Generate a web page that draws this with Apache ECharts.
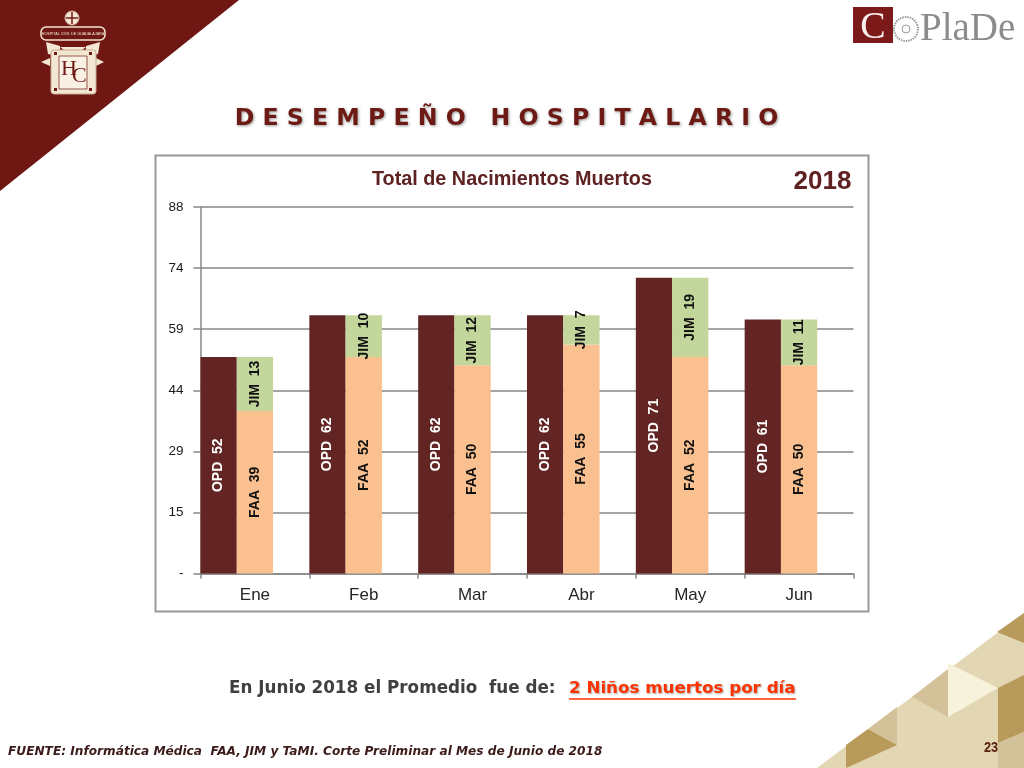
<!DOCTYPE html>
<html>
<head>
<meta charset="utf-8">
<title>Desempeño Hospitalario</title>
<script src="https://cdn.jsdelivr.net/npm/echarts@6/dist/echarts.min.js"></script>
<style>
  html, body { margin: 0; padding: 0; background: #fff; }
  #chart { width: 1024px; height: 768px; }
</style>
</head>
<body>
<div id="chart"></div>
<script>
const categories = ['Ene', 'Feb', 'Mar', 'Abr', 'May', 'Jun'];
const opdValues = [52, 62, 62, 62, 71, 61];
const faaValues = [39, 52, 50, 55, 52, 50];
const jimValues = [13, 10, 12, 7, 19, 11];
const yTickLabels = ['-', '15', '29', '44', '59', '74', '88'];

const yMax = 88;
const yStep = yMax / 6;
const arial = '"Liberation Sans", Arial, sans-serif';
const slideFont = '"DejaVu Sans", sans-serif';
const serif = '"Liberation Serif", serif';
const maroon = '#5f2222';

function poly(points, fill) {
  return { type: 'polygon', silent: true, shape: { points }, style: { fill } };
}

function label(x, y, text, font, fill, extra) {
  return {
    type: 'text', silent: true, x, y,
    style: Object.assign({ text, font, fill, textVerticalAlign: 'middle' }, extra || {}),
  };
}

// barra de la serie con su etiqueta girada
function barSeries(name, data, color, labelColor, stack) {
  return {
    name, type: 'bar', stack, data,
    itemStyle: { color },
    label: {
      show: true, position: 'inside', rotate: 90,
      color: labelColor, fontFamily: arial, fontSize: 14, fontWeight: 'bold',
      formatter: (p) => `${name}  ${p.value}`,
    },
  };
}

// fondo de la lamina
const cornerShapes = [
  poly([[817, 768], [1024, 613], [1024, 768]], '#e2d6b3'),
  poly([[997, 632], [1024, 613], [1024, 643]], '#b89a5a'),
  poly([[912, 697], [948, 669], [948, 717]], '#d3c299'),
  poly([[948, 663], [998, 688], [948, 717]], '#f7f2dc'),
  poly([[998, 688], [1024, 675], [1024, 732], [998, 743]], '#b89a5a'),
  poly([[998, 743], [1024, 732], [1024, 768], [998, 768]], '#d3c299'),
  poly([[846, 745], [868, 729], [897, 745], [846, 768]], '#b89a5a'),
  poly([[868, 729], [897, 707], [897, 745]], '#d3c299'),
];

const cream = '#f3e7d3';
const wine = '#6f1712';
const crest = [
  poly([[0, 0], [239, 0], [0, 191]], wine),
  { type: 'circle', silent: true, shape: { cx: 72, cy: 18, r: 7 }, style: { fill: cream, stroke: '#caa98f', lineWidth: 1 } },
  { type: 'line', silent: true, shape: { x1: 72, y1: 12, x2: 72, y2: 24 }, style: { stroke: wine, lineWidth: 1.5 } },
  { type: 'line', silent: true, shape: { x1: 66, y1: 18, x2: 78, y2: 18 }, style: { stroke: wine, lineWidth: 1.5 } },
  { type: 'rect', silent: true, shape: { x: 41, y: 27, width: 64, height: 13, r: 5 }, style: { fill: wine, stroke: cream, lineWidth: 1.5 } },
  label(73, 33.5, 'HOSPITAL CIVIL DE GUADALAJARA', `3.7px ${arial}`, cream, { textAlign: 'center' }),
  poly([[46, 42], [60, 46], [60, 56], [48, 54]], cream),
  poly([[100, 42], [86, 46], [86, 56], [98, 54]], cream),
  poly([[60, 47], [86, 47], [73, 57]], cream),
  poly([[41, 62], [50, 58], [50, 66]], cream),
  poly([[104, 62], [96, 58], [96, 66]], cream),
  { type: 'rect', silent: true, shape: { x: 51, y: 50, width: 45, height: 44, r: 3 }, style: { fill: cream, stroke: '#caa98f', lineWidth: 1 } },
  { type: 'rect', silent: true, shape: { x: 59, y: 56, width: 28, height: 33 }, style: { fill: '#f8f0e2', stroke: wine, lineWidth: 0.7 } },
  { type: 'rect', silent: true, shape: { x: 54, y: 52, width: 3, height: 3 }, style: { fill: wine } },
  { type: 'rect', silent: true, shape: { x: 89, y: 52, width: 3, height: 3 }, style: { fill: wine } },
  { type: 'rect', silent: true, shape: { x: 54, y: 88, width: 3, height: 3 }, style: { fill: wine } },
  { type: 'rect', silent: true, shape: { x: 89, y: 88, width: 3, height: 3 }, style: { fill: wine } },
  label(61, 69, 'H', `22px ${serif}`, wine),
  label(72, 76, 'C', `22px ${serif}`, wine),
];

const logo = [
  { type: 'rect', silent: true, shape: { x: 853, y: 7, width: 40, height: 36 }, style: { fill: '#7b1a18' } },
  label(873, 28, 'C', `38px ${serif}`, '#fbeeee', { textAlign: 'center' }),
  { type: 'circle', silent: true, shape: { cx: 906, cy: 29, r: 12 }, style: { fill: '#fff', stroke: '#9a9a9a', lineWidth: 2, lineDash: [1.5, 1] } },
  { type: 'circle', silent: true, shape: { cx: 906, cy: 29, r: 4 }, style: { fill: '#fff', stroke: '#9a9a9a', lineWidth: 1 } },
  label(920, 30, 'PlaDe', `39px ${serif}`, '#8c8c8c'),
];

const slideText = [
  // recuadro de la grafica
  { type: 'rect', silent: true, shape: { x: 155.5, y: 155.5, width: 713, height: 456 }, style: { fill: 'none', stroke: '#999', lineWidth: 2 } },
  label(506.5, 119, 'D E S E M P E Ñ O   H O S P I T A L A R I O', `bold 23.6px ${slideFont}`, '#6d1a15', {
    textAlign: 'center', textShadowColor: 'rgba(0,0,0,0.4)', textShadowBlur: 3, textShadowOffsetX: 1, textShadowOffsetY: 1,
  }),
  label(822.5, 182, '2018', `bold 26px ${arial}`, maroon, { textAlign: 'center' }),
  label(229, 689, 'En Junio 2018 el Promedio  fue de:', `bold 16.8px ${slideFont}`, '#404040'),
  label(569, 689, '2 Niños muertos por día', `bold 16.7px ${slideFont}`, '#ff3300', {
    textShadowColor: 'rgba(0,0,0,0.35)', textShadowBlur: 2, textShadowOffsetX: 1, textShadowOffsetY: 1,
  }),
  { type: 'line', silent: true, shape: { x1: 569, y1: 699, x2: 796, y2: 699 }, style: { stroke: '#ff3300', lineWidth: 1.5 } },
  label(8, 752, 'FUENTE: Informática Médica  FAA, JIM y TaMI. Corte Preliminar al Mes de Junio de 2018', `italic bold 12.15px ${slideFont}`, '#3b1a1a'),
  Object.assign(label(991, 748, '23', `bold 15px ${arial}`, '#5a2010', { textAlign: 'center' }), { scaleX: 0.85 }),
];

const chart = echarts.init(document.getElementById('chart'), null, { renderer: 'canvas' });
chart.setOption({
  animation: false,
  backgroundColor: '#fff',
  title: {
    text: 'Total de Nacimientos Muertos',
    left: 367, top: 165,
    textStyle: { fontFamily: arial, fontSize: 19.8, fontWeight: 'bold', color: maroon },
  },
  grid: { left: 200.5, right: 170.5, top: 207, bottom: 194.5 },
  xAxis: {
    type: 'category',
    data: categories,
    axisLine: { lineStyle: { color: '#868686', width: 1.5 } },
    axisTick: { show: true, alignWithLabel: false, length: 5, lineStyle: { color: '#868686', width: 1.5 } },
    axisLabel: { color: '#262626', fontFamily: arial, fontSize: 17, margin: 13 },
  },
  yAxis: {
    type: 'value',
    min: 0,
    max: yMax,
    interval: yStep,
    axisLine: { show: true, lineStyle: { color: '#868686', width: 1.5 } },
    axisTick: { show: true, length: 7, lineStyle: { color: '#868686', width: 1.5 } },
    splitLine: { lineStyle: { color: '#868686', width: 1.5 } },
    axisLabel: {
      color: '#1a1a1a', fontFamily: arial, fontSize: 13.5, margin: 17,
      formatter: (v) => yTickLabels[Math.round(v / yStep)],
    },
  },
  series: [
    Object.assign(barSeries('OPD', opdValues, '#632523', '#fff', 'opd'), { barGap: '0%', barCategoryGap: '0%' }),
    barSeries('FAA', faaValues, '#fac090', '#111', 'otros'),
    barSeries('JIM', jimValues, '#c3d69b', '#111', 'otros'),
    // hueco a la derecha de cada grupo
    { name: 'hueco', type: 'bar', stack: 'hueco', data: [] },
  ],
  graphic: { elements: [...cornerShapes, ...crest, ...logo, ...slideText] },
});
</script>
</body>
</html>
